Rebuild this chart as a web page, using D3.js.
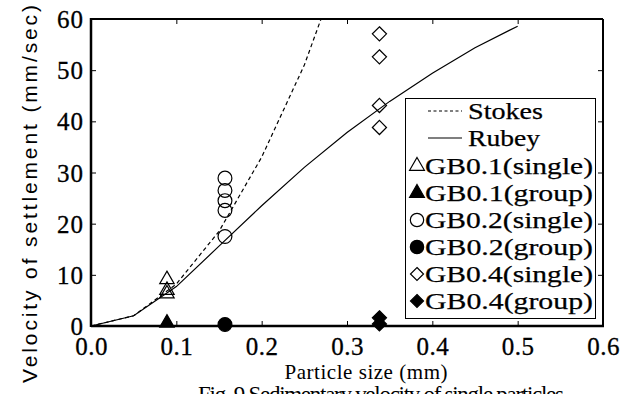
<!DOCTYPE html>
<html>
<head>
<meta charset="utf-8">
<script src="https://cdn.jsdelivr.net/npm/d3@7"></script>
<style>
  body { margin: 0; background: #fff; }
  svg { display: block; }
</style>
</head>
<body>
<div id="chart"></div>
<script>
// curves
var curveX = [0, 0.05, 0.1, 0.15, 0.2, 0.25, 0.3, 0.35, 0.4, 0.45, 0.5];
var stokesY = [0, 2.0, 8.2, 18.5, 33, 51, 74, null, null, null, null];
var rubeyY = [0, 2.0, 7.7, 15.6, 23.5, 31, 37.8, 43.9, 49.4, 54.4, 58.6];

// measured points
var gb01SingleX = [0.089, 0.089, 0.089];
var gb01SingleY = [9.1, 7.0, 6.3];
var gb01GroupX = [0.089];
var gb01GroupY = [0.6];
var gb02SingleX = [0.157, 0.157, 0.157, 0.157, 0.157];
var gb02SingleY = [28.9, 26.5, 24.5, 22.6, 17.5];
var gb02GroupX = [0.157];
var gb02GroupY = [0.3];
var gb04SingleX = [0.338, 0.338, 0.338, 0.338];
var gb04SingleY = [57.1, 52.6, 43.1, 38.8];
var gb04GroupX = [0.338, 0.338];
var gb04GroupY = [1.6, 0.4];

var xTicks = [0, 0.1, 0.2, 0.3, 0.4, 0.5, 0.6];
var yTicks = [0, 10, 20, 30, 40, 50, 60];
var legendNames = ["Stokes", "Rubey", "GB0.1(single)", "GB0.1(group)", "GB0.2(single)",
                   "GB0.2(group)", "GB0.4(single)", "GB0.4(group)"];

var W = 639, H = 394;
var plotL = 91, plotR = 603, plotT = 19, plotB = 326;
var serif = "Liberation Serif, Times New Roman, serif";

var svg = d3.select("#chart").append("svg")
    .attr("width", W)
    .attr("height", H);

var x = d3.scaleLinear().domain([0, 0.6]).range([plotL, plotR]);
var y = d3.scaleLinear().domain([0, 60]).range([plotB, plotT]);

svg.append("clipPath").attr("id", "plotClip")
  .append("rect")
    .attr("x", plotL).attr("y", plotT)
    .attr("width", plotR - plotL).attr("height", plotB - plotT);

// inner ticks on all four sides
var inner = [0.1, 0.2, 0.3, 0.4, 0.5];
svg.append("g").attr("transform", "translate(0," + plotB + ")")
    .call(d3.axisTop(x).tickValues(inner).tickSize(5).tickFormat(""))
    .call(function(g){ g.select(".domain").remove(); });
svg.append("g").attr("transform", "translate(0," + plotT + ")")
    .call(d3.axisBottom(x).tickValues(inner).tickSize(5).tickFormat(""))
    .call(function(g){ g.select(".domain").remove(); });
svg.append("g").attr("transform", "translate(" + plotL + ",0)")
    .call(d3.axisRight(y).tickValues([10, 20, 30, 40, 50]).tickSize(5).tickFormat(""))
    .call(function(g){ g.select(".domain").remove(); });
svg.append("g").attr("transform", "translate(" + plotR + ",0)")
    .call(d3.axisLeft(y).tickValues([10, 20, 30, 40, 50]).tickSize(5).tickFormat(""))
    .call(function(g){ g.select(".domain").remove(); });

// frame
svg.append("line").attr("x1", plotL).attr("x2", plotR).attr("y1", plotT).attr("y2", plotT)
    .attr("stroke", "#000").attr("stroke-width", 2);
svg.append("line").attr("x1", plotR).attr("x2", plotR).attr("y1", plotT).attr("y2", plotB)
    .attr("stroke", "#000").attr("stroke-width", 2);
svg.append("line").attr("x1", plotL).attr("x2", plotL).attr("y1", plotT - 1).attr("y2", plotB + 1)
    .attr("stroke", "#000").attr("stroke-width", 2.5);
svg.append("line").attr("x1", plotL).attr("x2", plotR + 1).attr("y1", plotB).attr("y2", plotB)
    .attr("stroke", "#000").attr("stroke-width", 2.5);

// tick labels
var xl = svg.append("g").attr("transform", "translate(0,355)")
    .call(d3.axisBottom(x).tickValues(xTicks).tickSize(0).tickFormat(d3.format(".1f")));
xl.select(".domain").remove();
xl.selectAll("text")
    .attr("y", 0).attr("dy", 0)
    .attr("font-family", serif)
    .attr("font-size", 25)
    .attr("letter-spacing", 0.5)
    .attr("fill", "#000")
    .attr("stroke", "#000").attr("stroke-width", 0.3);

var yl = svg.append("g").attr("transform", "translate(84,0)")
    .call(d3.axisLeft(y).tickValues(yTicks).tickSize(0).tickFormat(d3.format("d")));
yl.select(".domain").remove();
yl.selectAll("text")
    .attr("x", 0).attr("dy", "0.34em")
    .attr("font-family", serif)
    .attr("font-size", 25)
    .attr("letter-spacing", 1)
    .attr("fill", "#000")
    .attr("stroke", "#000").attr("stroke-width", 0.3);

// axis titles
svg.append("text")
    .attr("transform", "translate(37,194) rotate(-90)")
    .attr("text-anchor", "middle")
    .attr("font-family", "Liberation Sans, Arial, sans-serif")
    .attr("font-size", 21)
    .attr("textLength", 378)
    .attr("lengthAdjust", "spacing")
    .text("Velocity of settlement (mm/sec)");

svg.append("text")
    .attr("x", 366).attr("y", 379)
    .attr("text-anchor", "middle")
    .attr("font-family", serif)
    .attr("font-size", 21)
    .attr("textLength", 163)
    .attr("lengthAdjust", "spacing")
    .text("Particle size (mm)");

// caption, cut off by the bottom edge in the scan
svg.append("text")
    .attr("x", 381).attr("y", 402)
    .attr("text-anchor", "middle")
    .attr("font-family", serif)
    .attr("font-size", 23)
    .attr("textLength", 366)
    .attr("lengthAdjust", "spacing")
    .text("Fig. 9  Sedimentary velocity of single particles");

// curves
var plot = svg.append("g").attr("clip-path", "url(#plotClip)");
var line = d3.line()
    .defined(function(d){ return d[1] != null; })
    .x(function(d){ return x(d[0]); })
    .y(function(d){ return y(d[1]); });

plot.append("path")
    .datum(curveX.map(function(v, i){ return [v, stokesY[i]]; }))
    .attr("d", line)
    .attr("fill", "none").attr("stroke", "#000")
    .attr("stroke-width", 1.2).attr("stroke-dasharray", "4,3");
plot.append("path")
    .datum(curveX.map(function(v, i){ return [v, rubeyY[i]]; }))
    .attr("d", line)
    .attr("fill", "none").attr("stroke", "#000")
    .attr("stroke-width", 1.2);

// markers
function drawPoints(xs, ys, shape, filled, size){
  var sym = d3.symbol().type(shape).size(size);
  svg.append("g").selectAll("path")
    .data(xs.map(function(v, i){ return [v, ys[i]]; }))
    .enter().append("path")
      .attr("transform", function(d){ return "translate(" + x(d[0]) + "," + y(d[1]) + ")"; })
      .attr("d", sym)
      .attr("fill", filled ? "#000" : "#fff")
      .attr("fill-opacity", filled ? 1 : 0)
      .attr("stroke", "#000")
      .attr("stroke-width", 1.2);
}
var diamond = {
  draw: function(ctx, size){
    var r = Math.sqrt(size) / 2;
    ctx.moveTo(0, -r); ctx.lineTo(r, 0); ctx.lineTo(0, r); ctx.lineTo(-r, 0); ctx.closePath();
  }
};

drawPoints(gb01SingleX, gb01SingleY, d3.symbolTriangle, false, 90);
drawPoints(gb01GroupX, gb01GroupY, d3.symbolTriangle, true, 90);
drawPoints(gb02SingleX, gb02SingleY, d3.symbolCircle, false, 150);
drawPoints(gb02GroupX, gb02GroupY, d3.symbolCircle, true, 150);
drawPoints(gb04SingleX, gb04SingleY, diamond, false, 200);
drawPoints(gb04GroupX, gb04GroupY, diamond, true, 200);

// legend
var lg = svg.append("g");
lg.append("rect")
    .attr("x", 405.5).attr("y", 98.5)
    .attr("width", 190).attr("height", 220)
    .attr("fill", "#fff").attr("stroke", "#000").attr("stroke-width", 1);

var rowY = [111, 138, 166, 193, 220, 247, 274, 301];
var legShapes = [null, null, d3.symbolTriangle, d3.symbolTriangle, d3.symbolCircle,
                 d3.symbolCircle, diamond, diamond];
var legFilled = [false, false, false, true, false, true, false, true];

legendNames.forEach(function(name, i){
  if (i < 2) {
    lg.append("line")
      .attr("x1", 428).attr("x2", 462)
      .attr("y1", rowY[i]).attr("y2", rowY[i])
      .attr("stroke", "#000").attr("stroke-width", 1.2)
      .attr("stroke-dasharray", i == 0 ? "3,2.5" : null);
    lg.append("text")
      .attr("x", 468).attr("y", rowY[i] + 8)
      .attr("font-family", serif)
      .attr("font-size", 24)
      .attr("textLength", i == 0 ? 75 : 72)
      .attr("lengthAdjust", "spacingAndGlyphs")
      .attr("stroke", "#000").attr("stroke-width", 0.25)
      .text(name);
  } else {
    lg.append("path")
      .attr("transform", "translate(417," + rowY[i] + ")")
      .attr("d", d3.symbol().type(legShapes[i]).size(legShapes[i] == diamond ? 170 : (legShapes[i] == d3.symbolCircle ? 140 : 95)))
      .attr("fill", legFilled[i] ? "#000" : "#fff")
      .attr("stroke", "#000").attr("stroke-width", 1.2);
    lg.append("text")
      .attr("x", 425).attr("y", rowY[i] + 8)
      .attr("font-family", serif)
      .attr("font-size", 24)
      .attr("textLength", 168)
      .attr("lengthAdjust", "spacingAndGlyphs")
      .attr("stroke", "#000").attr("stroke-width", 0.25)
      .text(name);
  }
});
</script>
</body>
</html>
